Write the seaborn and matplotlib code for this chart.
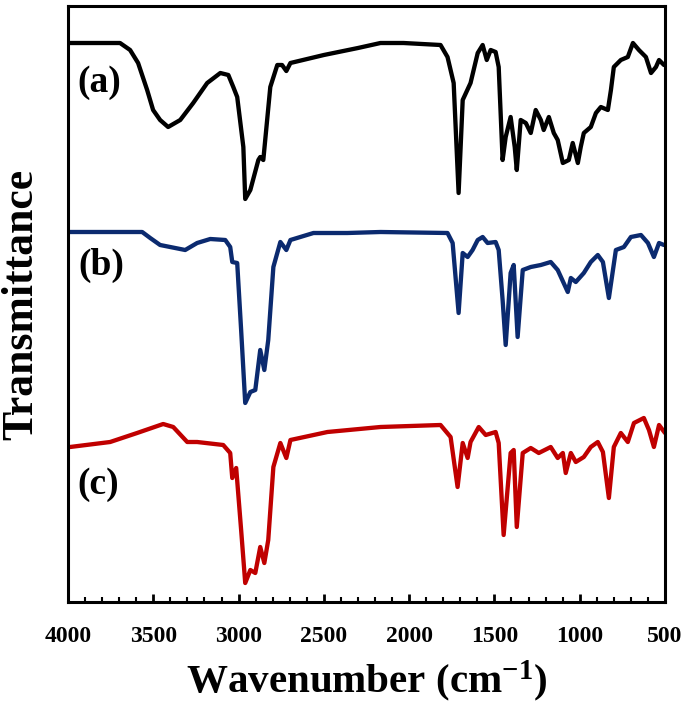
import matplotlib
matplotlib.use("Agg")
import matplotlib.pyplot as plt
from matplotlib.ticker import MultipleLocator
import seaborn as sns
import pandas as pd

# ---- data (wavenumber, cm-1 ; transmittance, offset arbitrary units) ----
wn_a = [3988, 3695, 3636, 3589, 3536, 3501, 3460, 3413, 3342, 3266, 3184, 3107, 3060,
        3031, 3008, 2972, 2961,
        2931, 2884, 2873, 2855, 2814, 2773, 2745, 2720, 2696, 2500, 2300, 2168, 2033,
        1816, 1775, 1739, 1710, 1686, 1640, 1598, 1569, 1545, 1522, 1493, 1475, 1452,
        1434, 1405, 1381, 1369, 1346, 1316, 1287, 1258, 1228, 1211, 1181, 1152, 1129,
        1099, 1064, 1041, 1011, 994, 976, 935, 905, 876, 835, 817, 800, 759, 718, 688,
        653, 612, 582, 553, 535, 506]
t_a = [561, 561, 554, 541, 514, 494, 484, 477, 484, 501, 521, 531, 529,
       517, 507, 457, 405,
       414, 444, 447, 444, 517, 539, 539, 533, 541, 549, 556, 561, 561,
       559, 547, 521, 411, 504, 521, 551, 559, 544, 554, 552, 537, 444,
       467, 487, 457, 434, 484, 481, 471, 494, 484, 474, 487, 471, 464,
       441, 444, 461, 441, 457, 471, 477, 491, 497, 494, 514, 537, 544, 547, 561,
       554, 547, 531, 537, 544, 539]

wn_b = [3988, 3565, 3518, 3460, 3313, 3243, 3166, 3078, 3049, 3037, 3008, 2985, 2961,
        2931, 2902, 2873, 2849, 2826, 2796, 2755, 2720, 2696, 2561, 2362, 2168, 1775,
        1745, 1710, 1686, 1657, 1628, 1598, 1569, 1540, 1493, 1475, 1452, 1434, 1405,
        1387, 1364, 1334, 1287, 1228, 1170, 1129, 1070, 1052, 1023, 976, 935, 894, 864,
        829, 788, 741, 700, 641, 600, 565, 535, 506]
t_b = [372, 372, 366, 359, 354, 361, 365, 364, 357, 342, 341, 274, 201,
       212, 214, 254, 234, 264, 337, 362, 354, 364, 371, 371, 372, 371,
       361, 291, 351, 347, 354, 364, 367, 361, 362, 354, 304, 259, 331,
       339, 267, 334, 337, 339, 342, 334, 312, 326, 322, 331, 342, 349, 342,
       306, 354, 357, 367, 369, 361, 347, 361, 359]

wn_c = [3988, 3753, 3595, 3442, 3383, 3301, 3243, 3090, 3049, 3037, 3014, 2985, 2961,
        2931, 2902, 2873, 2849, 2826, 2796, 2755, 2720, 2696, 2479, 2168, 1816, 1757,
        1716, 1686, 1657, 1640, 1592, 1551, 1493, 1475, 1446, 1405, 1387, 1369, 1334,
        1287, 1240, 1170, 1129, 1099, 1082, 1052, 1023, 976, 935, 894, 864, 829, 800,
        759, 718, 682, 624, 594, 565, 535, 500]
t_c = [157, 162, 171, 180, 177, 162, 162, 159, 151, 126, 136, 74, 21,
       34, 31, 57, 41, 64, 137, 161, 146, 164, 172, 177, 179, 167,
       117, 161, 146, 162, 177, 169, 172, 161, 69, 151, 154, 77, 151,
       156, 151, 157, 146, 151, 131, 151, 142, 147, 157, 162, 152, 106, 157,
       171, 162, 181, 186, 174, 157, 179, 171]

labels = ["(a)", "(b)", "(c)"]
colors = ["#000000", "#0b2a6f", "#c00000"]
x_ticks = [4000, 3500, 3000, 2500, 2000, 1500, 1000, 500]

# ---- style ----
sns.set_style("white")
plt.rcParams["font.family"] = ["Liberation Serif", "DejaVu Serif"]
plt.rcParams["font.weight"] = "bold"
plt.rcParams["text.color"] = "black"
plt.rcParams["axes.labelcolor"] = "black"
plt.rcParams["xtick.color"] = "black"
plt.rcParams["mathtext.fontset"] = "custom"
plt.rcParams["mathtext.rm"] = "Liberation Serif:bold"
plt.rcParams["mathtext.default"] = "rm"

fig = plt.figure(figsize=(6.85, 7.09), dpi=100)
ax = fig.add_axes([68 / 685, 1 - 602 / 709, (665 - 68) / 685, (602 - 6) / 709])

for wn, t, c in zip([wn_a, wn_b, wn_c], [t_a, t_b, t_c], colors):
    df = pd.DataFrame({"wn": wn, "T": t})
    sns.lineplot(data=df, x="wn", y="T", ax=ax, color=c, lw=3.1,
                 estimator=None, sort=False,
                 solid_joinstyle="round", solid_capstyle="round")

ax.set_xlim(4000, 500)
ax.set_ylim(2, 598)
ax.set_xticks(x_ticks)
ax.set_xticklabels([str(v) for v in x_ticks], fontsize=17, fontweight="bold",
                   color="black")
ax.xaxis.set_minor_locator(MultipleLocator(100))
ax.set_yticks([])
ax.tick_params(axis="x", which="major", direction="in", length=6, width=2,
               pad=17, bottom=True, top=False, colors="black")
ax.tick_params(axis="x", which="minor", direction="in", length=3.5, width=1.5,
               bottom=True, top=False, colors="black")
for s in ax.spines.values():
    s.set_linewidth(2.2)
    s.set_color("black")

ax.set_xlabel("Wavenumber (cm$^{-1}$)", fontsize=29.5, fontweight="bold",
              labelpad=9, color="black")
ax.set_ylabel("Transmittance", fontsize=31.5, fontweight="bold", labelpad=19,
              color="black")

for lab, (xv, yv) in zip(labels, [(3945, 522), (3940, 339), (3945, 119)]):
    ax.text(xv, yv, lab, fontsize=27, fontweight="bold", ha="left", va="center",
            color="black")

fig.savefig("out.png", dpi=100)
